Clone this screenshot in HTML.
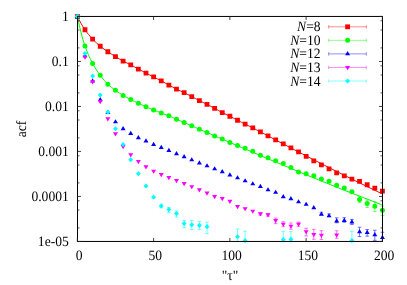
<!DOCTYPE html>
<html><head><meta charset="utf-8"><style>
html,body{margin:0;padding:0;background:#fff}
body{width:407px;height:285px;position:relative;overflow:hidden}
</style></head><body>
<svg width="407" height="285" viewBox="0 0 407 285" style="position:absolute;left:0;top:0;will-change:transform">
<rect width="407" height="285" fill="#fff"/>
<polyline points="77.35,16.45 79.26,20.17 81.16,23.64 83.07,26.85 84.98,29.75 86.88,32.36 88.79,34.75 90.70,36.97 92.60,39.05 94.51,41.02 96.42,42.89 98.32,44.63 100.23,46.25 102.14,47.74 104.04,49.13 105.95,50.45 107.86,51.75 109.76,53.03 111.67,54.27 113.58,55.48 115.48,56.65 117.39,57.80 119.30,58.92 121.21,60.01 123.11,61.05 125.02,62.03 126.93,62.96 128.83,63.89 130.74,64.85 132.65,65.88 134.55,66.94 136.46,68.00 138.37,69.05 140.27,70.07 142.18,71.07 144.09,72.06 145.99,73.05 147.90,74.03 149.81,75.01 151.71,75.98 153.62,76.95 155.53,77.92 157.43,78.88 159.34,79.85 161.25,80.85 163.15,81.88 165.06,82.94 166.97,84.00 168.87,85.05 170.78,86.10 172.69,87.15 174.59,88.17 176.50,89.15 178.41,90.05 180.31,90.91 182.22,91.76 184.13,92.65 186.03,93.61 187.94,94.62 189.85,95.64 191.75,96.65 193.66,97.63 195.57,98.61 197.48,99.58 199.38,100.55 201.29,101.52 203.20,102.50 205.10,103.48 207.01,104.45 208.92,105.42 210.82,106.38 212.73,107.35 214.64,108.35 216.54,109.39 218.45,110.46 220.36,111.53 222.26,112.55 224.17,113.50 226.08,114.41 227.98,115.32 229.89,116.25 231.80,117.23 233.70,118.24 235.61,119.25 237.52,120.25 239.42,121.24 241.33,122.22 243.24,123.19 245.14,124.15 247.05,125.08 248.96,125.99 250.86,126.90 252.77,127.85 254.68,128.85 256.58,129.89 258.49,130.93 260.40,131.95 262.30,132.93 264.21,133.90 266.12,134.87 268.02,135.85 269.93,136.86 271.84,137.90 273.75,138.93 275.65,139.95 302.35,153.91 329.04,167.63 355.74,181.03 382.43,194.00" fill="none" stroke="#ff0000" stroke-width="1.0"/>
<path d="M74.95 14.05h4.8v4.8h-4.8zM82.58 27.35h4.8v4.8h-4.8zM90.20 36.65h4.8v4.8h-4.8zM97.83 43.85h4.8v4.8h-4.8zM105.46 49.35h4.8v4.8h-4.8zM113.08 54.25h4.8v4.8h-4.8zM120.71 58.65h4.8v4.8h-4.8zM128.34 62.45h4.8v4.8h-4.8zM135.97 66.65h4.8v4.8h-4.8zM143.59 70.65h4.8v4.8h-4.8zM151.22 74.55h4.8v4.8h-4.8zM158.85 78.45h4.8v4.8h-4.8zM166.47 82.65h4.8v4.8h-4.8zM174.10 86.75h4.8v4.8h-4.8zM181.73 90.25h4.8v4.8h-4.8zM189.35 94.25h4.8v4.8h-4.8zM196.98 98.15h4.8v4.8h-4.8zM204.61 102.05h4.8v4.8h-4.8zM212.24 105.95h4.8v4.8h-4.8zM219.86 110.15h4.8v4.8h-4.8zM227.49 113.85h4.8v4.8h-4.8zM235.12 117.85h4.8v4.8h-4.8zM242.74 121.75h4.8v4.8h-4.8zM250.37 125.45h4.8v4.8h-4.8zM258.00 129.55h4.8v4.8h-4.8zM265.62 133.45h4.8v4.8h-4.8zM273.25 137.55h4.8v4.8h-4.8zM280.88 141.55h4.8v4.8h-4.8zM288.51 145.45h4.8v4.8h-4.8zM296.13 149.55h4.8v4.8h-4.8zM303.76 153.95h4.8v4.8h-4.8zM311.39 158.45h4.8v4.8h-4.8zM319.01 162.45h4.8v4.8h-4.8zM326.64 166.55h4.8v4.8h-4.8zM334.27 170.45h4.8v4.8h-4.8zM341.89 173.45h4.8v4.8h-4.8zM349.52 176.65h4.8v4.8h-4.8zM357.15 178.95h4.8v4.8h-4.8zM364.78 182.35h4.8v4.8h-4.8zM372.40 185.65h4.8v4.8h-4.8zM380.03 188.65h4.8v4.8h-4.8z" fill="#ff0000"/>
<path d="M359.55 196.45V202.65M357.75 196.45h3.6M357.75 202.65h3.6M367.18 200.05V207.55M365.38 200.05h3.6M365.38 207.55h3.6M374.80 201.75V211.45M373.00 201.75h3.6M373.00 211.45h3.6M382.43 206.05V215.45M380.63 206.05h3.6M380.63 215.45h3.6" stroke="#00ff00" stroke-width="0.55" fill="none"/>
<polyline points="77.35,16.45 79.26,25.07 81.16,32.97 83.07,40.02 84.98,46.05 86.88,51.19 88.79,55.72 90.70,59.77 92.60,63.45 94.51,66.82 96.42,69.89 98.32,72.72 100.23,75.35 102.14,77.83 104.04,80.17 105.95,82.32 107.86,84.25 109.76,85.96 111.67,87.51 113.58,88.95 115.48,90.35 117.39,91.72 119.30,93.03 121.21,94.27 123.11,95.45 125.02,96.55 126.93,97.58 128.83,98.58 130.74,99.55 132.65,100.50 134.55,101.43 136.46,102.34 138.37,103.25 140.27,104.17 142.18,105.09 144.09,105.99 145.99,106.85 147.90,107.66 149.81,108.44 151.71,109.19 153.62,109.95 155.53,110.71 157.43,111.46 159.34,112.21 161.25,112.95 163.15,113.67 165.06,114.38 166.97,115.09 168.87,115.85 170.78,116.66 172.69,117.52 174.59,118.39 176.50,119.25 178.41,120.08 180.31,120.91 182.22,121.73 184.13,122.55 186.03,123.37 187.94,124.19 189.85,125.02 191.75,125.85 193.66,126.70 195.57,127.55 197.48,128.40 199.38,129.25 201.29,130.08 203.20,130.90 205.10,131.72 207.01,132.55 208.92,133.40 210.82,134.26 212.73,135.12 214.64,135.95 216.54,136.74 218.45,137.50 220.36,138.26 222.26,139.05 224.17,139.88 226.08,140.74 227.98,141.61 229.89,142.45 268.02,158.81 306.16,174.80 344.29,190.25 382.43,205.00" fill="none" stroke="#00ff00" stroke-width="1.0"/>
<path d="M74.85 16.45a2.5 2.5 0 1 0 5.0 0a2.5 2.5 0 1 0 -5.0 0zM82.48 46.05a2.5 2.5 0 1 0 5.0 0a2.5 2.5 0 1 0 -5.0 0zM90.10 63.45a2.5 2.5 0 1 0 5.0 0a2.5 2.5 0 1 0 -5.0 0zM97.73 75.35a2.5 2.5 0 1 0 5.0 0a2.5 2.5 0 1 0 -5.0 0zM105.36 84.25a2.5 2.5 0 1 0 5.0 0a2.5 2.5 0 1 0 -5.0 0zM112.98 90.35a2.5 2.5 0 1 0 5.0 0a2.5 2.5 0 1 0 -5.0 0zM120.61 95.45a2.5 2.5 0 1 0 5.0 0a2.5 2.5 0 1 0 -5.0 0zM128.24 99.55a2.5 2.5 0 1 0 5.0 0a2.5 2.5 0 1 0 -5.0 0zM135.87 103.25a2.5 2.5 0 1 0 5.0 0a2.5 2.5 0 1 0 -5.0 0zM143.49 106.85a2.5 2.5 0 1 0 5.0 0a2.5 2.5 0 1 0 -5.0 0zM151.12 109.95a2.5 2.5 0 1 0 5.0 0a2.5 2.5 0 1 0 -5.0 0zM158.75 112.95a2.5 2.5 0 1 0 5.0 0a2.5 2.5 0 1 0 -5.0 0zM166.37 115.85a2.5 2.5 0 1 0 5.0 0a2.5 2.5 0 1 0 -5.0 0zM174.00 119.25a2.5 2.5 0 1 0 5.0 0a2.5 2.5 0 1 0 -5.0 0zM181.63 122.55a2.5 2.5 0 1 0 5.0 0a2.5 2.5 0 1 0 -5.0 0zM189.25 125.85a2.5 2.5 0 1 0 5.0 0a2.5 2.5 0 1 0 -5.0 0zM196.88 129.25a2.5 2.5 0 1 0 5.0 0a2.5 2.5 0 1 0 -5.0 0zM204.51 132.55a2.5 2.5 0 1 0 5.0 0a2.5 2.5 0 1 0 -5.0 0zM212.14 135.95a2.5 2.5 0 1 0 5.0 0a2.5 2.5 0 1 0 -5.0 0zM219.76 139.05a2.5 2.5 0 1 0 5.0 0a2.5 2.5 0 1 0 -5.0 0zM227.39 142.45a2.5 2.5 0 1 0 5.0 0a2.5 2.5 0 1 0 -5.0 0zM235.02 145.55a2.5 2.5 0 1 0 5.0 0a2.5 2.5 0 1 0 -5.0 0zM242.64 148.35a2.5 2.5 0 1 0 5.0 0a2.5 2.5 0 1 0 -5.0 0zM250.27 151.25a2.5 2.5 0 1 0 5.0 0a2.5 2.5 0 1 0 -5.0 0zM257.90 155.15a2.5 2.5 0 1 0 5.0 0a2.5 2.5 0 1 0 -5.0 0zM265.52 157.65a2.5 2.5 0 1 0 5.0 0a2.5 2.5 0 1 0 -5.0 0zM273.15 160.65a2.5 2.5 0 1 0 5.0 0a2.5 2.5 0 1 0 -5.0 0zM280.78 163.55a2.5 2.5 0 1 0 5.0 0a2.5 2.5 0 1 0 -5.0 0zM288.41 167.55a2.5 2.5 0 1 0 5.0 0a2.5 2.5 0 1 0 -5.0 0zM296.03 171.95a2.5 2.5 0 1 0 5.0 0a2.5 2.5 0 1 0 -5.0 0zM303.66 173.65a2.5 2.5 0 1 0 5.0 0a2.5 2.5 0 1 0 -5.0 0zM311.29 175.85a2.5 2.5 0 1 0 5.0 0a2.5 2.5 0 1 0 -5.0 0zM318.91 179.05a2.5 2.5 0 1 0 5.0 0a2.5 2.5 0 1 0 -5.0 0zM326.54 181.35a2.5 2.5 0 1 0 5.0 0a2.5 2.5 0 1 0 -5.0 0zM334.17 185.35a2.5 2.5 0 1 0 5.0 0a2.5 2.5 0 1 0 -5.0 0zM341.79 188.05a2.5 2.5 0 1 0 5.0 0a2.5 2.5 0 1 0 -5.0 0zM349.42 191.65a2.5 2.5 0 1 0 5.0 0a2.5 2.5 0 1 0 -5.0 0zM357.05 199.45a2.5 2.5 0 1 0 5.0 0a2.5 2.5 0 1 0 -5.0 0zM364.68 203.45a2.5 2.5 0 1 0 5.0 0a2.5 2.5 0 1 0 -5.0 0zM372.30 206.35a2.5 2.5 0 1 0 5.0 0a2.5 2.5 0 1 0 -5.0 0zM379.93 210.25a2.5 2.5 0 1 0 5.0 0a2.5 2.5 0 1 0 -5.0 0z" fill="#00ff00"/>
<path d="M321.41 212.25V214.85M319.61 212.25h3.6M319.61 214.85h3.6M329.04 213.85V216.65M327.24 213.85h3.6M327.24 216.65h3.6M336.67 217.85V222.75M334.87 217.85h3.6M334.87 222.75h3.6M344.29 217.65V222.25M342.49 217.65h3.6M342.49 222.25h3.6M351.92 219.35V224.45M350.12 219.35h3.6M350.12 224.45h3.6M359.55 227.25V236.55M357.75 227.25h3.6M357.75 236.55h3.6M367.18 229.55V236.15M365.38 229.55h3.6M365.38 236.15h3.6M374.80 230.25V240.35M373.00 230.25h3.6M373.00 240.35h3.6M382.43 232.25V241.30M380.63 232.25h3.6" stroke="#0000ff" stroke-width="0.55" fill="none"/>
<path d="M77.35 14.35L79.85 18.55H74.85zM84.98 53.15L87.48 57.35H82.48zM92.60 78.35L95.10 82.55H90.10zM100.23 97.05L102.73 101.25H97.73zM107.86 109.65L110.36 113.85H105.36zM115.48 119.15L117.98 123.35H112.98zM123.11 126.05L125.61 130.25H120.61zM130.74 130.85L133.24 135.05H128.24zM138.37 134.95L140.87 139.15H135.87zM145.99 138.35L148.49 142.55H143.49zM153.62 141.75L156.12 145.95H151.12zM161.25 144.85L163.75 149.05H158.75zM168.87 147.85L171.37 152.05H166.37zM176.50 150.95L179.00 155.15H174.00zM184.13 153.95L186.63 158.15H181.63zM191.75 157.15L194.25 161.35H189.25zM199.38 160.25L201.88 164.45H196.88zM207.01 163.15L209.51 167.35H204.51zM214.64 166.15L217.14 170.35H212.14zM222.26 169.05L224.76 173.25H219.76zM229.89 172.25L232.39 176.45H227.39zM237.52 175.15L240.02 179.35H235.02zM245.14 178.15L247.64 182.35H242.64zM252.77 181.15L255.27 185.35H250.27zM260.40 183.85L262.90 188.05H257.90zM268.02 187.15L270.52 191.35H265.52zM275.65 189.65L278.15 193.85H273.15zM283.28 193.95L285.78 198.15H280.78zM290.91 196.05L293.41 200.25H288.41zM298.53 199.15L301.03 203.35H296.03zM306.16 201.65L308.66 205.85H303.66zM313.79 204.95L316.29 209.15H311.29zM321.41 211.45L323.91 215.65H318.91zM329.04 213.15L331.54 217.35H326.54zM336.67 218.35L339.17 222.55H334.17zM344.29 217.75L346.79 221.95H341.79zM351.92 219.25L354.42 223.45H349.42zM359.55 228.95L362.05 233.15H357.05zM367.18 229.75L369.68 233.95H364.68zM374.80 232.05L377.30 236.25H372.30zM382.43 234.85L384.93 239.05H379.93z" fill="#0000ff"/>
<path d="M260.40 212.85V215.25M258.60 212.85h3.6M258.60 215.25h3.6M268.02 213.85V216.25M266.22 213.85h3.6M266.22 216.25h3.6M275.65 218.05V223.65M273.85 218.05h3.6M273.85 223.65h3.6M283.28 221.75V226.65M281.48 221.75h3.6M281.48 226.65h3.6M290.91 222.95V229.25M289.11 222.95h3.6M289.11 229.25h3.6M298.53 222.05V226.35M296.73 222.05h3.6M296.73 226.35h3.6M306.16 228.25V235.95M304.36 228.25h3.6M304.36 235.95h3.6M313.79 229.45V239.25M311.99 229.45h3.6M311.99 239.25h3.6M321.41 230.65V239.45M319.61 230.65h3.6M319.61 239.45h3.6M336.67 230.75V238.25M334.87 230.75h3.6M334.87 238.25h3.6" stroke="#ff00ff" stroke-width="0.55" fill="none"/>
<path d="M77.35 18.95L79.85 14.75H74.85zM84.98 59.85L87.48 55.65H82.48zM92.60 84.45L95.10 80.25H90.10zM100.23 104.25L102.73 100.05H97.73zM107.86 121.45L110.36 117.25H105.36zM115.48 136.45L117.98 132.25H112.98zM123.11 149.25L125.61 145.05H120.61zM130.74 157.55L133.24 153.35H128.24zM138.37 164.15L140.87 159.95H135.87zM145.99 169.55L148.49 165.35H143.49zM153.62 173.85L156.12 169.65H151.12zM161.25 177.15L163.75 172.95H158.75zM168.87 180.15L171.37 175.95H166.37zM176.50 183.25L179.00 179.05H174.00zM184.13 186.25L186.63 182.05H181.63zM191.75 189.35L194.25 185.15H189.25zM199.38 192.55L201.88 188.35H196.88zM207.01 195.65L209.51 191.45H204.51zM214.64 199.15L217.14 194.95H212.14zM222.26 201.25L224.76 197.05H219.76zM229.89 204.05L232.39 199.85H227.39zM237.52 209.15L240.02 204.95H235.02zM245.14 211.35L247.64 207.15H242.64zM252.77 213.85L255.27 209.65H250.27zM260.40 216.55L262.90 212.35H257.90zM268.02 217.55L270.52 213.35H265.52zM275.65 223.25L278.15 219.05H273.15zM283.28 226.85L285.78 222.65H280.78zM290.91 228.85L293.41 224.65H288.41zM298.53 226.85L301.03 222.65H296.03zM306.16 234.35L308.66 230.15H303.66zM313.79 237.25L316.29 233.05H311.29zM321.41 238.05L323.91 233.85H318.91zM336.67 237.65L339.17 233.45H334.17z" fill="#ff00ff"/>
<path d="M161.25 204.05V207.85M159.45 204.05h3.6M159.45 207.85h3.6M168.87 207.45V212.85M167.07 207.45h3.6M167.07 212.85h3.6M176.50 210.95V217.05M174.70 210.95h3.6M174.70 217.05h3.6M184.13 220.45V227.65M182.33 220.45h3.6M182.33 227.65h3.6M191.75 220.45V229.65M189.95 220.45h3.6M189.95 229.65h3.6M199.38 221.35V229.65M197.58 221.35h3.6M197.58 229.65h3.6M207.01 222.15V233.55M205.21 222.15h3.6M205.21 233.55h3.6M237.52 229.05V241.30M235.72 229.05h3.6M245.14 231.25V241.30M243.34 231.25h3.6M283.28 231.65V241.30M281.48 231.65h3.6M290.91 231.65V241.30M289.11 231.65h3.6M351.92 231.25V241.30M350.12 231.25h3.6" stroke="#00ffff" stroke-width="0.55" fill="none"/>
<path d="M77.35 13.90L79.80 16.45L77.35 19.00L74.90 16.45zM84.98 50.90L87.43 53.45L84.98 56.00L82.53 53.45zM92.60 73.40L95.05 75.95L92.60 78.50L90.15 75.95zM100.23 92.50L102.68 95.05L100.23 97.60L97.78 95.05zM107.86 109.50L110.31 112.05L107.86 114.60L105.41 112.05zM115.48 126.20L117.93 128.75L115.48 131.30L113.03 128.75zM123.11 142.00L125.56 144.55L123.11 147.10L120.66 144.55zM130.74 157.20L133.19 159.75L130.74 162.30L128.29 159.75zM138.37 171.20L140.82 173.75L138.37 176.30L135.92 173.75zM145.99 183.40L148.44 185.95L145.99 188.50L143.54 185.95zM153.62 194.60L156.07 197.15L153.62 199.70L151.17 197.15zM161.25 203.50L163.70 206.05L161.25 208.60L158.80 206.05zM168.87 207.00L171.32 209.55L168.87 212.10L166.42 209.55zM176.50 210.90L178.95 213.45L176.50 216.00L174.05 213.45zM184.13 221.00L186.58 223.55L184.13 226.10L181.68 223.55zM191.75 222.20L194.20 224.75L191.75 227.30L189.31 224.75zM199.38 222.80L201.83 225.35L199.38 227.90L196.93 225.35zM207.01 224.10L209.46 226.65L207.01 229.20L204.56 226.65zM237.52 234.20L239.97 236.75L237.52 239.30L235.07 236.75zM245.14 237.90L247.59 240.45L245.14 243.00L242.69 240.45zM283.28 237.10L285.73 239.65L283.28 242.20L280.83 239.65zM290.91 236.80L293.36 239.35L290.91 241.90L288.46 239.35zM351.92 237.90L354.37 240.45L351.92 243.00L349.47 240.45z" fill="#00ffff"/>
<rect x="77.5" y="16.45" width="305.00" height="225.00" fill="none" stroke="#000" stroke-width="1"/>
<path d="M77.5 16.45h3.5M382.5 16.45h-3.5M77.5 61.45h3.5M382.5 61.45h-3.5M77.5 106.45h3.5M382.5 106.45h-3.5M77.5 151.45h3.5M382.5 151.45h-3.5M77.5 196.45h3.5M382.5 196.45h-3.5M77.5 241.45h3.5M382.5 241.45h-3.5M77.35 241.45v-3.5M77.35 16.45v3.5M153.60 241.45v-3.5M153.60 16.45v3.5M229.85 241.45v-3.5M229.85 16.45v3.5M306.10 241.45v-3.5M306.10 16.45v3.5M382.35 241.45v-3.5M382.35 16.45v3.5" stroke="#222" stroke-width="0.85" fill="none"/>
<path d="M77.5 20.81h2M382.5 20.81h-2M77.5 30.00h2M382.5 30.00h-2M77.5 47.90h2M382.5 47.90h-2M77.5 65.81h2M382.5 65.81h-2M77.5 75.00h2M382.5 75.00h-2M77.5 92.90h2M382.5 92.90h-2M77.5 110.81h2M382.5 110.81h-2M77.5 120.00h2M382.5 120.00h-2M77.5 137.90h2M382.5 137.90h-2M77.5 155.81h2M382.5 155.81h-2M77.5 165.00h2M382.5 165.00h-2M77.5 182.90h2M382.5 182.90h-2M77.5 200.81h2M382.5 200.81h-2M77.5 210.00h2M382.5 210.00h-2M77.5 227.90h2M382.5 227.90h-2" stroke="#222" stroke-width="0.75" fill="none"/>
<path d="M328.7 26.80H366.3M328.7 25.10v3.4M366.3 25.10v3.4" stroke="#ff0000" stroke-width="0.45" fill="none"/>
<path d="M345.20 24.40h4.8v4.8h-4.8z" fill="#ff0000"/>
<path d="M328.7 40.35H366.3M328.7 38.65v3.4M366.3 38.65v3.4" stroke="#00ff00" stroke-width="0.45" fill="none"/>
<path d="M345.10 40.35a2.5 2.5 0 1 0 5.0 0a2.5 2.5 0 1 0 -5.0 0z" fill="#00ff00"/>
<path d="M328.7 53.90H366.3M328.7 52.20v3.4M366.3 52.20v3.4" stroke="#0000ff" stroke-width="0.45" fill="none"/>
<path d="M347.60 51.10L350.10 55.30H345.10z" fill="#0000ff"/>
<path d="M328.7 67.45H366.3M328.7 65.75v3.4M366.3 65.75v3.4" stroke="#ff00ff" stroke-width="0.45" fill="none"/>
<path d="M347.60 70.25L350.10 66.05H345.10z" fill="#ff00ff"/>
<path d="M328.7 81.00H366.3M328.7 79.30v3.4M366.3 79.30v3.4" stroke="#00ffff" stroke-width="0.45" fill="none"/>
<path d="M347.60 78.45L350.05 81.00L347.60 83.55L345.15 81.00z" fill="#00ffff"/>
<g font-family="Liberation Serif, serif" font-size="13.6" fill="#000" style="text-rendering:geometricPrecision"><text transform="translate(68.80 21.40) scale(1 1.05)" text-anchor="end">1</text><text transform="translate(68.80 66.40) scale(1 1.05)" text-anchor="end">0.1</text><text transform="translate(68.80 111.40) scale(1 1.05)" text-anchor="end">0.01</text><text transform="translate(68.80 156.40) scale(1 1.05)" text-anchor="end">0.001</text><text transform="translate(68.80 201.40) scale(1 1.05)" text-anchor="end">0.0001</text><text transform="translate(68.80 246.40) scale(1 1.05)" text-anchor="end">1e-05</text><text transform="translate(79.10 259.60) scale(1 1.05)" text-anchor="middle">0</text><text transform="translate(155.35 259.60) scale(1 1.05)" text-anchor="middle">50</text><text transform="translate(231.60 259.60) scale(1 1.05)" text-anchor="middle">100</text><text transform="translate(307.85 259.60) scale(1 1.05)" text-anchor="middle">150</text><text transform="translate(384.10 259.60) scale(1 1.05)" text-anchor="middle">200</text><text transform="translate(230.10 279.70) scale(1 1.05)" text-anchor="middle">"τ"</text><text transform="translate(320.60 31.30) scale(1 1.05)" text-anchor="end"><tspan font-style="italic">N</tspan>=8</text><text transform="translate(320.60 44.85) scale(1 1.05)" text-anchor="end"><tspan font-style="italic">N</tspan>=10</text><text transform="translate(320.60 58.40) scale(1 1.05)" text-anchor="end"><tspan font-style="italic">N</tspan>=12</text><text transform="translate(320.60 71.95) scale(1 1.05)" text-anchor="end"><tspan font-style="italic">N</tspan>=13</text><text transform="translate(320.60 85.50) scale(1 1.05)" text-anchor="end"><tspan font-style="italic">N</tspan>=14</text><text transform="translate(26 129.0) rotate(-90) scale(1 1.05)" text-anchor="middle">acf</text></g>
</svg>

</body></html>
